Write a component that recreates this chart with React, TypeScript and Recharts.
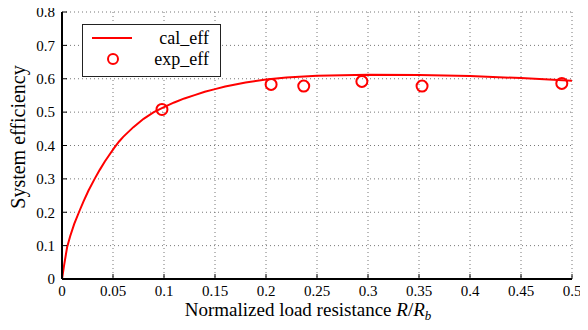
import {
  ComposedChart,
  Line,
  Scatter,
  XAxis,
  YAxis,
  CartesianGrid,
} from "recharts";

// calculated efficiency curve
const calX = [
  0, 0.002, 0.005, 0.008, 0.012, 0.017, 0.021, 0.026, 0.032, 0.037, 0.042,
  0.046, 0.051, 0.056, 0.06, 0.07, 0.08, 0.09, 0.1, 0.11, 0.12, 0.13, 0.14,
  0.15, 0.16, 0.18, 0.2, 0.22, 0.25, 0.3, 0.35, 0.4, 0.45, 0.5,
];
const calY = [
  0, 0.04, 0.095, 0.128, 0.165, 0.203, 0.232, 0.265, 0.3, 0.327, 0.352, 0.37,
  0.392, 0.412, 0.426, 0.455, 0.48, 0.5, 0.515, 0.529, 0.541, 0.551, 0.561,
  0.569, 0.577, 0.589, 0.598, 0.604, 0.609, 0.612, 0.611, 0.608, 0.602, 0.594,
];

// measured points
const expX = [0.098, 0.205, 0.237, 0.294, 0.353, 0.49];
const expY = [0.508, 0.583, 0.578, 0.592, 0.578, 0.586];

const xTicks = [0, 0.05, 0.1, 0.15, 0.2, 0.25, 0.3, 0.35, 0.4, 0.45, 0.5];
const yTicks = [0, 0.1, 0.2, 0.3, 0.4, 0.5, 0.6, 0.7, 0.8];

const calData = calX.map((x, i) => ({ x, cal: calY[i] }));
const expData = expX.map((x, i) => ({ x, exp: expY[i] }));

const RED = "#ff0000";
const FONT = "Liberation Serif, DejaVu Serif, Times New Roman, serif";
const tickStyle = { fontSize: 15, fill: "#000", style: { fontFamily: FONT } };
const axisLine = { stroke: "#000", strokeWidth: 2 };
const tickLine = { stroke: "#000", strokeWidth: 1 };

function LegendBox() {
  return (
    <div
      style={{
        position: "absolute",
        left: 82,
        top: 24,
        width: 137,
        height: 51,
        border: "1.5px solid #222",
        background: "#fff",
      }}
    >
      <svg width={137} height={51} style={{ position: "absolute", left: 0, top: 0 }}>
        <line x1={9} x2={49} y1={13} y2={13} stroke={RED} strokeWidth={2} />
        <circle cx={30} cy={34} r={5} fill="none" stroke={RED} strokeWidth={2} />
        <text x={126} y={19} textAnchor="end" fontSize={18} style={{ fontFamily: FONT }}>
          cal_eff
        </text>
        <text x={126} y={40} textAnchor="end" fontSize={18} style={{ fontFamily: FONT }}>
          exp_eff
        </text>
      </svg>
    </div>
  );
}

function XTitle(props: any) {
  const vb = props.viewBox;
  return (
    <text
      x={308}
      y={vb.y + 37}
      textAnchor="middle"
      fontSize={19}
      style={{ fontFamily: FONT }}
      fill="#000"
    >
      Normalized load resistance{" "}
      <tspan fontStyle="italic">R</tspan>/<tspan fontStyle="italic">R</tspan>
      <tspan fontStyle="italic" fontSize={13} dy={4}>
        b
      </tspan>
    </text>
  );
}

function YTitle() {
  const cy = 137;
  const x = 25;
  return (
    <text
      x={x}
      y={cy}
      transform={`rotate(-90, ${x}, ${cy})`}
      textAnchor="middle"
      fontSize={20}
      style={{ fontFamily: FONT }}
      fill="#000"
    >
      System efficiency
    </text>
  );
}

export default function App() {
  return (
    <div
      style={{
        width: 588,
        height: 330,
        margin: -8,
        background: "#fff",
        position: "relative",
        fontFamily: FONT,
      }}
    >
      <ComposedChart
        width={588}
        height={330}
        margin={{ top: 12, right: 16, bottom: 0, left: 0 }}
      >
        <CartesianGrid
          xAxisId="b"
          yAxisId="l"
          stroke="#777"
          strokeDasharray="1 3"
          verticalValues={xTicks}
          horizontalValues={yTicks}
        />
        <XAxis
          xAxisId="b"
          type="number"
          dataKey="x"
          domain={[0, 0.5]}
          ticks={xTicks}
          tickFormatter={(v: number) => String(v)}
          allowDataOverflow
          height={51}
          tick={tickStyle}
          axisLine={axisLine}
          tickLine={tickLine}
          tickSize={-5}
          tickMargin={11}
          label={(p: any) => <XTitle {...p} />}
        />
        <XAxis
          xAxisId="t"
          orientation="top"
          type="number"
          dataKey="x"
          domain={[0, 0.5]}
          ticks={xTicks}
          height={0}
          tick={false}
          axisLine={axisLine}
          tickLine={tickLine}
          tickSize={-5}
        />
        <YAxis
          yAxisId="l"
          type="number"
          domain={[0, 0.8]}
          ticks={yTicks}
          tickFormatter={(v: number) => String(v)}
          width={62}
          tick={tickStyle}
          axisLine={axisLine}
          tickLine={tickLine}
          tickSize={-5}
          tickMargin={12}
          label={() => <YTitle />}
        />
        <YAxis
          yAxisId="r"
          orientation="right"
          type="number"
          domain={[0, 0.8]}
          ticks={yTicks}
          width={0}
          tick={false}
          axisLine={axisLine}
          tickLine={tickLine}
          tickSize={-5}
        />
        <Line
          xAxisId="b"
          yAxisId="l"
          data={calData}
          dataKey="cal"
          type="linear"
          stroke={RED}
          strokeWidth={2}
          dot={false}
          isAnimationActive={false}
        />
        <Scatter
          xAxisId="b"
          yAxisId="l"
          data={expData}
          dataKey="exp"
          fill="none"
          stroke={RED}
          strokeWidth={2}
          shape={(p: any) => (
            <circle cx={p.cx} cy={p.cy} r={5.5} fill="none" stroke={RED} strokeWidth={2} />
          )}
          isAnimationActive={false}
        />
      </ComposedChart>
      <LegendBox />
    </div>
  );
}
